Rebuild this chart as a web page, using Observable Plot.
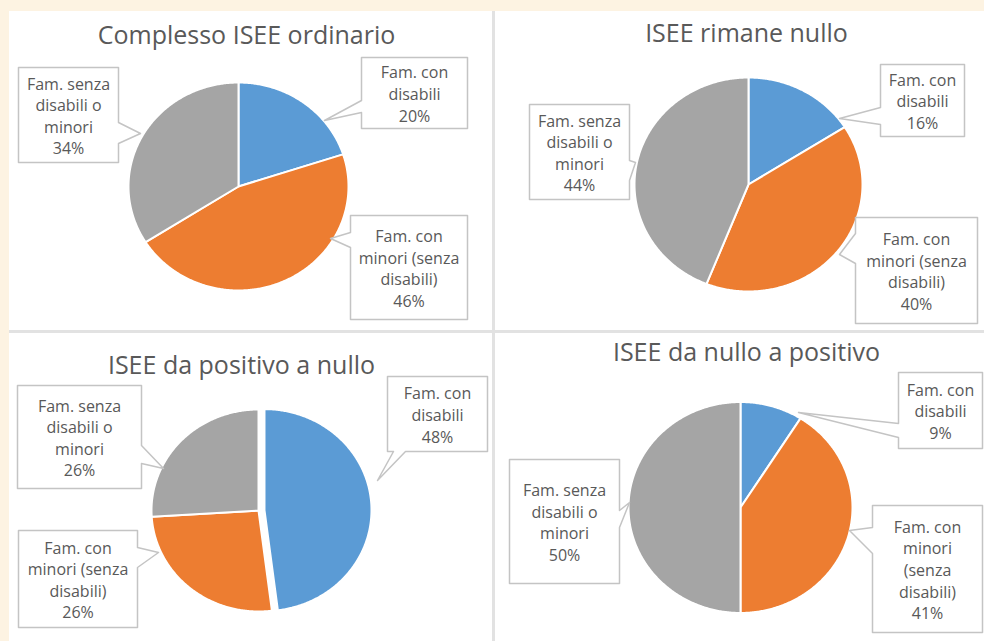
<!DOCTYPE html>
<html><head><meta charset="utf-8">
<script src="https://cdn.jsdelivr.net/npm/d3@7"></script>
<script src="https://cdn.jsdelivr.net/npm/@observablehq/plot@0.6"></script>
<style>
body{margin:0;background:#fdf3e2;}
#wrap{position:relative;width:984px;height:641px;background:#fdf3e2;overflow:hidden;font-family:"Open Sans",sans-serif}
#panel{position:absolute;left:9px;top:11px;width:975px;height:630px;background:#fff}
.vline{position:absolute;left:492px;top:11px;width:3px;height:630px;background:#e2e2e2}
.hline{position:absolute;left:9px;top:330px;width:975px;height:3px;background:#e2e2e2}
#chart{position:absolute;left:0;top:0}
</style></head><body>
<div id="wrap"><div id="panel"></div><div class="vline"></div><div class="hline"></div><div id="chart"></div></div>
<script>
// ---- data ----
const chartTitles = ["Complesso ISEE ordinario", "ISEE rimane nullo", "ISEE da positivo a nullo", "ISEE da nullo a positivo"];
const categories = ["Fam. con disabili", "Fam. con minori (senza disabili)", "Fam. senza disabili o minori"];
const complessoValues = [20, 46, 34];
const rimaneNulloValues = [16, 40, 44];
const positivoANulloValues = [48, 26, 26];
const nulloAPositivoValues = [9, 41, 50];
const labelsStandard = ["Fam. con\ndisabili", "Fam. con\nminori (senza\ndisabili)", "Fam. senza\ndisabili o\nminori"];
const labelsNarrow = ["Fam. con\ndisabili", "Fam. con\nminori\n(senza\ndisabili)", "Fam. senza\ndisabili o\nminori"];

// ---- styles ----
const sliceColors = ["#5b9bd5", "#ed7d31", "#a5a5a5"];
const textColor = "#595959";

// ---- layout (pixels) ----
const layout = [
  {values: complessoValues, labels: labelsStandard, cx: 238, cy: 186, rx: 110, ry: 104, titleX: 246, titleY: 43, explode: [0, 0, 0],
   boxes: [
     {x0: 361, y0: 57, x1: 467, y1: 128, side: "left", b0: 100, b1: 112, tx: 324, ty: 120},
     {x0: 350, y0: 215, x1: 467, y1: 319, side: "left", b0: 232, b1: 247, tx: 330, ty: 238},
     {x0: 18, y0: 67, x1: 118, y1: 162, side: "right", b0: 122, b1: 143, tx: 140, ty: 133}
   ]},
  {values: rimaneNulloValues, labels: labelsStandard, cx: 748, cy: 184, rx: 114, ry: 107, titleX: 746, titleY: 41, explode: [0, 0, 0],
   boxes: [
     {x0: 880, y0: 64, x1: 964, y1: 136, side: "left", b0: 107, b1: 124, tx: 839, ty: 118},
     {x0: 855, y0: 217, x1: 977, y1: 323, side: "left", b0: 233, b1: 263, tx: 839, ty: 254},
     {x0: 529, y0: 104, x1: 629, y1: 199, side: "right", b0: 160, b1: 180, tx: 635, ty: 162}
   ]},
  {values: positivoANulloValues, labels: labelsStandard, cx: 258, cy: 510, rx: 107, ry: 101, titleX: 241, titleY: 373, explode: [6, 0, 0],
   boxes: [
     {x0: 387, y0: 376, x1: 487, y1: 451, side: "bottom", b0: 393, b1: 405, tx: 377, ty: 480},
     {x0: 18, y0: 530, x1: 137, y1: 627, side: "right", b0: 547, b1: 567, tx: 158, ty: 552},
     {x0: 17, y0: 385, x1: 141, y1: 488, side: "right", b0: 445, b1: 463, tx: 163, ty: 468}
   ]},
  {values: nulloAPositivoValues, labels: labelsNarrow, cx: 740, cy: 507, rx: 112, ry: 105.5, titleX: 746, titleY: 360, explode: [0, 0, 0],
   boxes: [
     {x0: 898, y0: 372, x1: 982, y1: 448, side: "left", b0: 423, b1: 437, tx: 798, ty: 412},
     {x0: 872, y0: 505, x1: 982, y1: 632, side: "left", b0: 527, b1: 553, tx: 849, ty: 530},
     {x0: 509, y0: 459, x1: 619, y1: 583, side: "right", b0: 510, b1: 527, tx: 629, ty: 502}
   ]}
];

// ---- build mark data ----
const slicePts = [], calloutPts = [], labelData = [], titleData = [];
layout.forEach((L, i) => {
  titleData.push({x: L.titleX, y: L.titleY, text: chartTitles[i]});
  const arcs = d3.pie().sort(null).startAngle(0).endAngle(2 * Math.PI)(L.values);
  arcs.forEach((a, j) => {
    const key = `s${i}-${j}`;
    const mid = (a.startAngle + a.endAngle) / 2;
    const ox = L.explode[j] * Math.sin(mid), oy = -L.explode[j] * Math.cos(mid);
    const cx = L.cx + ox, cy = L.cy + oy;
    slicePts.push({key, cat: categories[j], x: cx, y: cy});
    const n = Math.max(2, Math.ceil((a.endAngle - a.startAngle) / 0.01));
    for (let k = 0; k <= n; k++) {
      const t = a.startAngle + (a.endAngle - a.startAngle) * k / n;
      slicePts.push({key, cat: categories[j], x: cx + L.rx * Math.sin(t), y: cy - L.ry * Math.cos(t)});
    }
    slicePts.push({key, cat: categories[j], x: cx, y: cy});

    const B = L.boxes[j];
    const ck = `c${i}-${j}`;
    const pts = [];
    pts.push([B.x0, B.y0]);
    if (B.side === "top") pts.push([B.b0, B.y0], [B.tx, B.ty], [B.b1, B.y0]);
    pts.push([B.x1, B.y0]);
    if (B.side === "right") pts.push([B.x1, B.b0], [B.tx, B.ty], [B.x1, B.b1]);
    pts.push([B.x1, B.y1]);
    if (B.side === "bottom") pts.push([B.b1, B.y1], [B.tx, B.ty], [B.b0, B.y1]);
    pts.push([B.x0, B.y1]);
    if (B.side === "left") pts.push([B.x0, B.b1], [B.tx, B.ty], [B.x0, B.b0]);
    pts.push([B.x0, B.y0]);
    pts.forEach(([x, y]) => calloutPts.push({key: ck, x, y}));
    labelData.push({x: (B.x0 + B.x1) / 2, y: (B.y0 + B.y1) / 2, text: `${L.labels[j]}\n${L.values[j]}%`});
  });
});

const plot = Plot.plot({
  width: 984, height: 641, margin: 0,
  style: {background: "transparent", fontFamily: "'Open Sans', sans-serif", overflow: "visible"},
  x: {domain: [0, 984], range: [0, 984], axis: null},
  y: {domain: [0, 641], range: [0, 641], axis: null},
  color: {domain: categories, range: sliceColors},
  marks: [
    Plot.line(slicePts, {x: "x", y: "y", z: "key", fill: "cat", stroke: "white", strokeWidth: 2, strokeLinejoin: "round", curve: "linear"}),
    Plot.line(calloutPts, {x: "x", y: "y", z: "key", fill: "white", stroke: "#c4c4c4", strokeWidth: 1.5, curve: "linear"}),
    Plot.text(labelData, {x: "x", y: "y", text: "text", fontSize: 16, lineHeight: 1.35, fill: textColor, textAnchor: "middle", lineAnchor: "middle"}),
    Plot.text(titleData, {x: "x", y: "y", text: "text", fontSize: 25, fill: textColor, textAnchor: "middle", lineAnchor: "bottom"})
  ]
});
document.getElementById("chart").appendChild(plot);
</script>
</body></html>
